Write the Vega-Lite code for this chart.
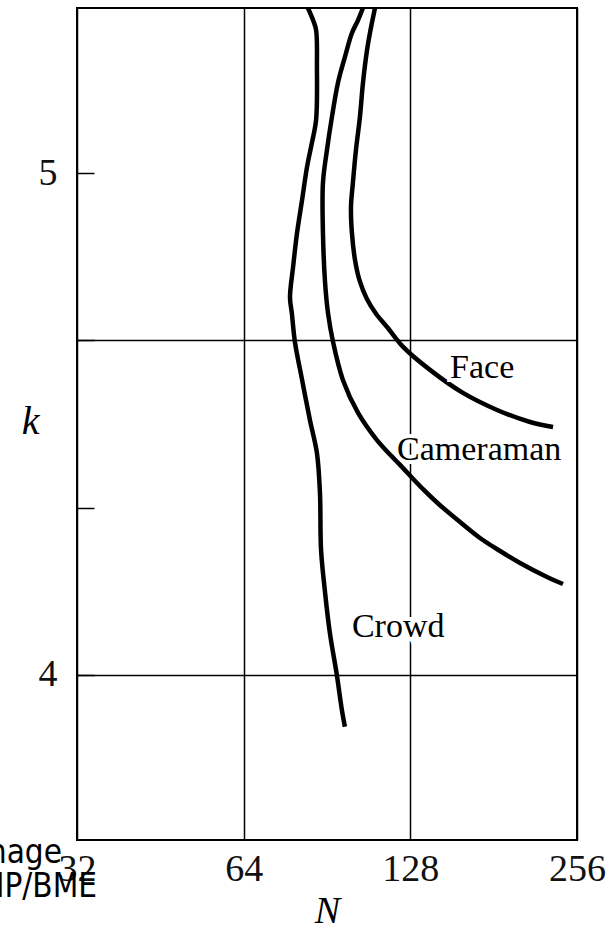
{
  "$schema": "https://vega.github.io/schema/vega-lite/v6.json",
  "width": 500,
  "height": 832,
  "autosize": {"type": "none"},
  "padding": {"left": 77, "top": 8, "right": 32, "bottom": 96},
  "background": "white",
  "config": {"view": {"stroke": "black", "strokeWidth": 2}},
  "datasets": {
    "curves": [
      {"series": "Crowd", "i": 1, "N": 83.6, "k": 5.33},
      {"series": "Crowd", "i": 2, "N": 85.4, "k": 5.306},
      {"series": "Crowd", "i": 3, "N": 86.5, "k": 5.286},
      {"series": "Crowd", "i": 4, "N": 86.8, "k": 5.212},
      {"series": "Crowd", "i": 5, "N": 86.5, "k": 5.107},
      {"series": "Crowd", "i": 6, "N": 85.0, "k": 5.061},
      {"series": "Crowd", "i": 7, "N": 83.3, "k": 5.013},
      {"series": "Crowd", "i": 8, "N": 81.6, "k": 4.947},
      {"series": "Crowd", "i": 9, "N": 79.9, "k": 4.881},
      {"series": "Crowd", "i": 10, "N": 78.6, "k": 4.813},
      {"series": "Crowd", "i": 11, "N": 77.6, "k": 4.753},
      {"series": "Crowd", "i": 12, "N": 78.2, "k": 4.721},
      {"series": "Crowd", "i": 13, "N": 79.2, "k": 4.664},
      {"series": "Crowd", "i": 14, "N": 81.6, "k": 4.588},
      {"series": "Crowd", "i": 15, "N": 84.3, "k": 4.508},
      {"series": "Crowd", "i": 16, "N": 86.8, "k": 4.442},
      {"series": "Crowd", "i": 17, "N": 87.9, "k": 4.362},
      {"series": "Crowd", "i": 18, "N": 88.3, "k": 4.249},
      {"series": "Crowd", "i": 19, "N": 89.8, "k": 4.163},
      {"series": "Crowd", "i": 20, "N": 91.6, "k": 4.083},
      {"series": "Crowd", "i": 21, "N": 94.3, "k": 3.999},
      {"series": "Crowd", "i": 22, "N": 96.3, "k": 3.929},
      {"series": "Crowd", "i": 23, "N": 97.5, "k": 3.896},
      {"series": "Cameraman", "i": 1, "N": 105.1, "k": 5.33},
      {"series": "Cameraman", "i": 2, "N": 103.0, "k": 5.306},
      {"series": "Cameraman", "i": 3, "N": 100.4, "k": 5.28},
      {"series": "Cameraman", "i": 4, "N": 97.5, "k": 5.232},
      {"series": "Cameraman", "i": 5, "N": 94.7, "k": 5.18},
      {"series": "Cameraman", "i": 6, "N": 92.4, "k": 5.113},
      {"series": "Cameraman", "i": 7, "N": 90.5, "k": 5.047},
      {"series": "Cameraman", "i": 8, "N": 89.0, "k": 4.981},
      {"series": "Cameraman", "i": 9, "N": 89.0, "k": 4.881},
      {"series": "Cameraman", "i": 10, "N": 89.8, "k": 4.781},
      {"series": "Cameraman", "i": 11, "N": 90.9, "k": 4.721},
      {"series": "Cameraman", "i": 12, "N": 92.8, "k": 4.664},
      {"series": "Cameraman", "i": 13, "N": 96.7, "k": 4.588},
      {"series": "Cameraman", "i": 14, "N": 103.0, "k": 4.522},
      {"series": "Cameraman", "i": 15, "N": 111.4, "k": 4.468},
      {"series": "Cameraman", "i": 16, "N": 124.2, "k": 4.412},
      {"series": "Cameraman", "i": 17, "N": 135.5, "k": 4.368},
      {"series": "Cameraman", "i": 18, "N": 144.8, "k": 4.338},
      {"series": "Cameraman", "i": 19, "N": 157.4, "k": 4.3045},
      {"series": "Cameraman", "i": 20, "N": 171.0, "k": 4.2726},
      {"series": "Cameraman", "i": 21, "N": 185.9, "k": 4.2466},
      {"series": "Cameraman", "i": 22, "N": 202.0, "k": 4.2227},
      {"series": "Cameraman", "i": 23, "N": 226.0, "k": 4.1947},
      {"series": "Cameraman", "i": 24, "N": 241.5, "k": 4.1808},
      {"series": "Face", "i": 1, "N": 110.5, "k": 5.33},
      {"series": "Face", "i": 2, "N": 108.2, "k": 5.28},
      {"series": "Face", "i": 3, "N": 106.9, "k": 5.246},
      {"series": "Face", "i": 4, "N": 105.1, "k": 5.18},
      {"series": "Face", "i": 5, "N": 103.8, "k": 5.113},
      {"series": "Face", "i": 6, "N": 102.1, "k": 5.047},
      {"series": "Face", "i": 7, "N": 100.8, "k": 4.981},
      {"series": "Face", "i": 8, "N": 100.0, "k": 4.933},
      {"series": "Face", "i": 9, "N": 100.4, "k": 4.881},
      {"series": "Face", "i": 10, "N": 101.7, "k": 4.827},
      {"series": "Face", "i": 11, "N": 103.6, "k": 4.787},
      {"series": "Face", "i": 12, "N": 106.8, "k": 4.750},
      {"series": "Face", "i": 13, "N": 111.0, "k": 4.720},
      {"series": "Face", "i": 14, "N": 116.5, "k": 4.692},
      {"series": "Face", "i": 15, "N": 124.2, "k": 4.654},
      {"series": "Face", "i": 16, "N": 138.9, "k": 4.608},
      {"series": "Face", "i": 17, "N": 159.3, "k": 4.562},
      {"series": "Face", "i": 18, "N": 183.6, "k": 4.528},
      {"series": "Face", "i": 19, "N": 210.6, "k": 4.504},
      {"series": "Face", "i": 20, "N": 231.7, "k": 4.494}
    ],
    "labels": [
      {"label": "Face", "N": 151.0, "k": 4.592},
      {"label": "Cameraman", "N": 121.1, "k": 4.428},
      {"label": "Crowd", "N": 100.4, "k": 4.075}
    ],
    "stamp": [
      {"label": "Image", "N": 30.06, "k": 3.624},
      {"label": "DIP/BME", "N": 34.78, "k": 3.556}
    ]
  },
  "encoding": {
    "x": {
      "field": "N",
      "type": "quantitative",
      "scale": {"type": "log", "base": 2, "domain": [32, 256], "nice": false},
      "axis": {
        "values": [32, 64, 128, 256],
        "grid": true,
        "gridColor": "black",
        "gridWidth": 1.5,
        "ticks": false,
        "domain": false,
        "labelFont": "Liberation Serif",
        "labelFontSize": 38,
        "labelColor": "#111",
        "labelPadding": 10,
        "labelFlush": false,
        "labelOverlap": false,
        "title": "N",
        "titleFont": "Liberation Serif",
        "titleFontStyle": "italic",
        "titleFontWeight": "normal",
        "titleFontSize": 38,
        "titleColor": "black",
        "titleX": 250,
        "titleY": 82,
        "titleAlign": "center",
        "titleBaseline": "alphabetic"
      }
    },
    "y": {
      "field": "k",
      "type": "quantitative",
      "scale": {"domain": [3.67, 5.33], "nice": false, "zero": false},
      "axis": {
        "values": [4, 4.3333, 4.6667, 5],
        "labelExpr": "datum.value == 4 ? '4' : datum.value == 5 ? '5' : ''",
        "grid": true,
        "gridColor": "black",
        "gridWidth": 1.5,
        "gridOpacity": {"condition": {"test": "abs(datum.value - 4) < 0.01 || abs(datum.value - 4.6667) < 0.01", "value": 1}, "value": 0},
        "ticks": true,
        "tickSize": -17,
        "tickColor": "black",
        "tickWidth": 1.5,
        "domain": false,
        "labelFont": "Liberation Serif",
        "labelFontSize": 38,
        "labelColor": "#111",
        "labelPadding": 37,
        "labelFlush": false,
        "labelOverlap": false,
        "title": "k",
        "titleAngle": 0,
        "titleFont": "Liberation Serif",
        "titleFontStyle": "italic",
        "titleFontWeight": "normal",
        "titleFontSize": 40,
        "titleColor": "black",
        "titleX": -47,
        "titleY": 425,
        "titleAlign": "center",
        "titleBaseline": "alphabetic"
      }
    }
  },
  "layer": [
    {
      "data": {"name": "curves"},
      "mark": {"type": "line", "color": "black", "strokeWidth": 4.5, "interpolate": "catmull-rom", "strokeJoin": "round", "clip": true},
      "encoding": {
        "detail": {"field": "series", "type": "nominal"},
        "order": {"field": "i", "type": "quantitative"}
      }
    },
    {
      "data": {"name": "labels"},
      "mark": {"type": "text", "align": "left", "baseline": "alphabetic", "font": "Liberation Serif", "fontSize": 34, "fill": "white", "stroke": "white", "strokeWidth": 8},
      "encoding": {"text": {"field": "label"}}
    },
    {
      "data": {"name": "labels"},
      "mark": {"type": "text", "align": "left", "baseline": "alphabetic", "font": "Liberation Serif", "fontSize": 34, "color": "black"},
      "encoding": {"text": {"field": "label"}}
    },
    {
      "data": {"name": "stamp"},
      "mark": {"type": "text", "align": "right", "baseline": "alphabetic", "font": "DejaVu Sans Condensed, DejaVu Sans", "fontSize": 33, "color": "black"},
      "encoding": {"text": {"field": "label"}}
    }
  ]
}
